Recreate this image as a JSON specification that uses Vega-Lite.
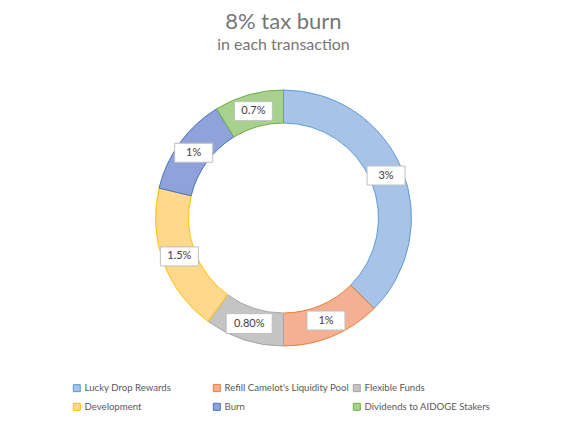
{
  "$schema": "https://vega.github.io/schema/vega-lite/v6.json",
  "width": 567,
  "height": 316,
  "autosize": "none",
  "padding": {"top": 60, "bottom": 47, "left": 0, "right": 0},
  "background": "white",
  "title": {
    "text": "8% tax burn",
    "subtitle": "in each transaction",
    "anchor": "middle",
    "frame": "group",
    "offset": 6,
    "font": "Lato",
    "fontSize": 22,
    "fontWeight": "normal",
    "color": "#767676",
    "subtitleFont": "Lato",
    "subtitleFontSize": 16,
    "subtitleColor": "#767676",
    "subtitlePadding": 3
  },
  "data": {
    "values": [
      {"category": "Lucky Drop Rewards", "value": 3, "label": "3%", "order": 1},
      {"category": "Refill Camelot's Liquidity Pool", "value": 1, "label": "1%", "order": 2},
      {"category": "Flexible Funds", "value": 0.8, "label": "0.80%", "order": 3},
      {"category": "Development", "value": 1.5, "label": "1.5%", "order": 4},
      {"category": "Burn", "value": 1, "label": "1%", "order": 5},
      {"category": "Dividends to AIDOGE Stakers", "value": 0.7, "label": "0.7%", "order": 6}
    ]
  },
  "transform": [
    {"window": [{"op": "sum", "field": "value", "as": "cum"}], "sort": [{"field": "order"}]},
    {"joinaggregate": [{"op": "sum", "field": "value", "as": "total"}]},
    {"calculate": "(datum.cum - datum.value / 2) / datum.total * 2 * PI", "as": "mid"},
    {"calculate": "111 * sin(datum.mid)", "as": "lx"},
    {"calculate": "111 * cos(datum.mid)", "as": "ly"}
  ],
  "layer": [
    {
      "mark": {"type": "arc", "outerRadius": 128, "innerRadius": 95, "strokeWidth": 1},
      "encoding": {
        "theta": {"field": "value", "type": "quantitative", "stack": true},
        "order": {"field": "order", "type": "quantitative"},
        "fill": {
          "field": "category",
          "type": "nominal",
          "scale": {
            "domain": ["Lucky Drop Rewards", "Refill Camelot's Liquidity Pool", "Flexible Funds", "Development", "Burn", "Dividends to AIDOGE Stakers"],
            "range": ["#a7c3e7", "#f3b093", "#c4c4c4", "#ffd88c", "#8fa2d9", "#a9d18e"]
          },
          "legend": {
            "orient": "none", "direction": "horizontal", "legendX": 72, "legendY": 323, "columns": 3, "gridAlign": "all",
            "columnPadding": 0, "rowPadding": 7, "symbolType": "square", "symbolSize": 49, "labelOffset": 3,
            "labelFont": "Lato", "labelFontSize": 9.6, "labelColor": "#595959", "title": null, "symbolStrokeWidth": 1
          }
        },
        "stroke": {
          "field": "category",
          "type": "nominal",
          "scale": {
            "domain": ["Lucky Drop Rewards", "Refill Camelot's Liquidity Pool", "Flexible Funds", "Development", "Burn", "Dividends to AIDOGE Stakers"],
            "range": ["#5b9bd5", "#ed7d31", "#a5a5a5", "#ffc000", "#4472c4", "#70ad47"]
          },
          "legend": {
            "orient": "none", "direction": "horizontal", "legendX": 72, "legendY": 323, "columns": 3, "gridAlign": "all",
            "columnPadding": 0, "rowPadding": 7, "symbolType": "square", "symbolSize": 49, "labelOffset": 3,
            "labelFont": "Lato", "labelFontSize": 9.6, "labelColor": "#595959", "title": null, "symbolStrokeWidth": 1
          }
        }
      }
    },
    {
      "mark": {"type": "point", "filled": true, "fill": "white", "stroke": "#bfbfbf", "strokeWidth": 1, "opacity": 1},
      "encoding": {
        "x": {"field": "lx", "type": "quantitative", "scale": {"domain": [-283.5, 283.5], "nice": false, "zero": false}, "axis": null},
        "y": {"field": "ly", "type": "quantitative", "scale": {"domain": [-158, 158], "nice": false, "zero": false}, "axis": null},
        "size": {"condition": {"test": "datum.label == '0.80%'", "value": 2116}, "value": 1444},
        "shape": {"condition": {"test": "datum.label == '0.80%'", "value": "M-1,-0.43H1V0.43H-1Z"}, "value": "M-1,-0.5H1V0.5H-1Z"}
      }
    },
    {
      "mark": {"type": "text", "font": "Lato", "fontSize": 11, "color": "#404040"},
      "encoding": {
        "x": {"field": "lx", "type": "quantitative", "scale": {"domain": [-283.5, 283.5], "nice": false, "zero": false}, "axis": null},
        "y": {"field": "ly", "type": "quantitative", "scale": {"domain": [-158, 158], "nice": false, "zero": false}, "axis": null},
        "text": {"field": "label", "type": "nominal"}
      }
    }
  ],
  "config": {"view": {"stroke": null}}
}
